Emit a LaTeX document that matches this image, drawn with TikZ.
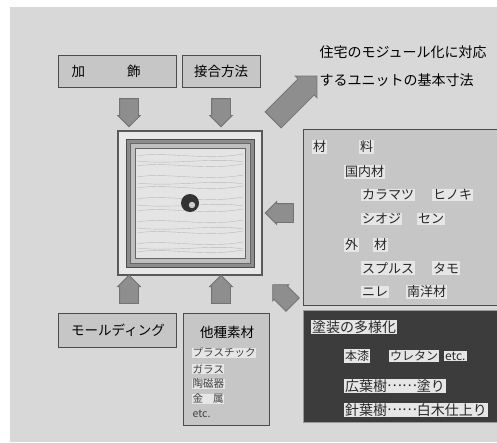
\documentclass[tikz,border=0pt]{standalone}
\usepackage{fontspec}
\setmainfont{Noto Sans CJK JP}
\usetikzlibrary{shapes.arrows}

\definecolor{paper}{HTML}{D8D8D8}
\definecolor{boxgrey}{HTML}{C6C6C6}
\definecolor{arrowgrey}{HTML}{8E8E8E}
\definecolor{paste}{HTML}{E6E6E6}
\definecolor{darkbox}{HTML}{3C3C3C}
\definecolor{wood}{HTML}{E4E4E4}

\newcommand{\midleader}{\raisebox{0.32em}{……}}

\begin{document}
\begin{tikzpicture}
[	x=1pt,y=-1pt,
	box/.style={rectangle,draw=black!70,line width=1},
	blk/.style={single arrow,draw=black!55,line width=0.8,fill=arrowgrey,inner sep=9pt,single arrow head extend=2pt,single arrow head indent=0pt,minimum height=24pt},
	lbl/.style={fill=paste,inner sep=1pt,anchor=west,text=black!85,font=\fontsize{13}{15}\selectfont},
	small/.style={fill=paste,inner sep=0.5pt,anchor=west,text=black!75,font=\fontsize{10.5}{12}\selectfont},
	grain/.style={draw=black!28,line width=0.4}
]

\useasboundingbox (0,0) rectangle (497,442);
\fill[paper] (10,7) rectangle (497,442);

% boxes on top
\draw[box,fill=boxgrey] (58,55) rectangle (176,87);
\node (kashoku) at (106,71) {\fontsize{13.5}{15}\selectfont 加\hspace{42pt}飾};
\draw[box,fill=boxgrey] (182,55) rectangle (260,87);
\node (setsugo) at (221,71) {\fontsize{13.5}{15}\selectfont 接合方法};

\node[anchor=west,font=\fontsize{14}{16}\selectfont] (mod1) at (316,52) {住宅のモジュール化に対応};
\node[anchor=west,font=\fontsize{14}{16}\selectfont] (mod2) at (316,80) {するユニットの基本寸法};

% panel
\draw[line width=1.5,draw=black!65,fill=paper!60!white] (118,131) rectangle (262,275);
\draw[line width=1,draw=black!70,fill=black!45] (126,139) rectangle (254,267);
\draw[line width=0.8,draw=black!60,fill=black!25] (130,143) rectangle (250,263);
\draw[line width=0.8,draw=black!60,fill=wood] (135,148) rectangle (245,258);
\foreach \y in {156,166,177,188,199,211,222,233,244,252}
	\draw[grain] (137,\y) .. controls (165,\y-5) and (205,\y+5) .. (243,\y-2);
\foreach \y in {161,183,205,228,248}
	\draw[grain] (137,\y) .. controls (175,\y+4) and (215,\y-4) .. (243,\y+1);
\node[circle,fill=black!80,minimum size=18pt,inner sep=0pt] (knob) at (190,203) {};
\fill[white!80!black] (192,205) circle (3.2);

% arrows
\node[blk,rotate=-90] (dn1) at (129,108) {};
\node[blk,rotate=-90] (dn2) at (221,108) {};
\node[blk,rotate=90,minimum height=22pt] (up1) at (129,294) {};
\node[blk,rotate=90,minimum height=22pt] (up2) at (221,294) {};
\node[blk,rotate=180,minimum height=23pt] (lt) at (284,213) {};
\node[blk,rotate=135,minimum height=27pt] (dg) at (286,298) {};
\node[blk,rotate=45,inner sep=11pt,single arrow head extend=4pt,minimum height=62pt] (big) at (291,102) {};

% materials
\draw[box,fill=boxgrey] (498,129) -- (303,129) -- (303,305) -- (498,305);
\node[lbl] (z1) at (312,147) {材};
\node[lbl] (z2) at (359,147) {料};
\node[lbl] (kn) at (344,172) {国内材};
\node[lbl] (k1) at (361,195) {カラマツ};
\node[lbl] (k2) at (432,195) {ヒノキ};
\node[lbl] (k3) at (361,219) {シオジ};
\node[lbl] (k4) at (417,219) {セン};
\node[lbl] (g1) at (344,245) {外};
\node[lbl] (g2) at (373,245) {材};
\node[lbl] (g3) at (361,268) {スプルス};
\node[lbl] (g4) at (432,268) {タモ};
\node[lbl] (g5) at (361,292) {ニレ};
\node[lbl] (g6) at (406,292) {南洋材};

% finishing
\draw[box,draw=black!40,fill=darkbox] (498,310) -- (303,310) -- (303,422) -- (498,422);
\node[lbl,font=\fontsize{14}{16}\selectfont] (t0) at (311,327) {塗装の多様化};
\node[lbl,font=\fontsize{12}{14}\selectfont] (t1) at (344,356) {本漆};
\node[lbl,font=\fontsize{12}{14}\selectfont] (t2) at (389,356) {ウレタン};
\node[lbl,font=\fontsize{12}{14}\selectfont] (t3) at (444,356) {etc.};
\node[lbl,font=\fontsize{14}{16}\selectfont] (t4) at (344,386) {広葉樹\midleader 塗り};
\node[lbl,font=\fontsize{14}{16}\selectfont] (t5) at (344,410) {針葉樹\midleader 白木仕上り};

% bottom boxes
\draw[box,fill=boxgrey] (58,313) rectangle (176,347);
\node (mold) at (118,330) {\fontsize{13.5}{15}\selectfont モールディング};
\draw[box,fill=boxgrey] (183,313) rectangle (269,425);
\node (other) at (227,332) {\fontsize{13.5}{15}\selectfont 他種素材};
\node[small] (o1) at (192,353) {プラスチック};
\node[small] (o2) at (192,369) {ガラス};
\node[small] (o3) at (192,384) {陶磁器};
\node[small] (o4) at (192,399) {金\hspace{10pt}属};
\node[small,fill=none] (o5) at (192,414) {etc.};

\end{tikzpicture}
\end{document}
